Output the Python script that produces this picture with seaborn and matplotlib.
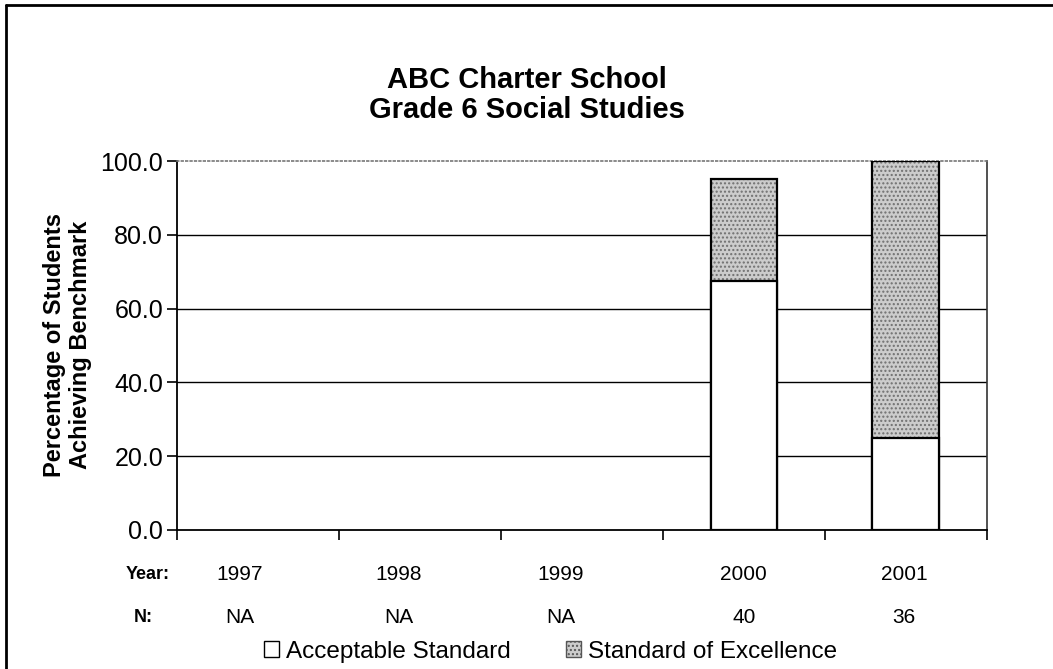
import numpy as np
import pandas as pd
import seaborn as sns
from matplotlib import pyplot as plt
from matplotlib.lines import Line2D
from matplotlib.patches import Patch

# Data
years = ["1997", "1998", "1999", "2000", "2001"]
n_students = ["NA", "NA", "NA", "40", "36"]
acceptable = [np.nan, np.nan, np.nan, 67.5, 25.0]
excellence = [np.nan, np.nan, np.nan, 27.5, 75.0]
label_nudge = [-0.11, -0.13, -0.13, 0.0, -0.01]  # small shifts of the table text
y_ticks = [0, 20, 40, 60, 80, 100]

df = pd.DataFrame({"year": years, "acceptable": acceptable, "excellence": excellence})
df["total"] = df["acceptable"] + df["excellence"]

sns.set_theme(style="white")
plt.rcParams["font.family"] = ["Liberation Sans", "DejaVu Sans"]
plt.rcParams["text.color"] = "black"

fig = plt.figure(figsize=(10.53, 6.69), dpi=100)
ax = fig.add_axes([0.168, 0.2078, 0.769, 0.5515])

for y in y_ticks[1:-1]:
    ax.axhline(y, color="black", lw=1.0, zorder=0)

bar_w = 0.41
# Standard of Excellence on top (drawn as total height, stippled)
sns.barplot(data=df, x="year", y="total", order=years, color="#cccccc",
            hatch="....", edgecolor="#707070", linewidth=0, width=bar_w,
            saturation=1, ax=ax, zorder=2)
sns.barplot(data=df, x="year", y="total", order=years, fill=False,
            edgecolor="black", linewidth=1.6, width=bar_w, ax=ax, zorder=3)
# Acceptable Standard at the bottom (white)
sns.barplot(data=df, x="year", y="acceptable", order=years, color="white",
            edgecolor="black", linewidth=1.6, width=bar_w, saturation=1,
            ax=ax, zorder=4)

ax.set_xlim(-0.5, len(years) - 0.5)
ax.set_ylim(0, 100)
ax.set_yticks(y_ticks)
ax.set_yticklabels([f"{v:.1f}" for v in y_ticks], fontsize=18)
ax.set_xticks(np.arange(len(years) + 1) - 0.5)
ax.set_xticklabels([])
ax.set_xlabel("")
ax.set_ylabel("")
ax.tick_params(axis="y", direction="out", length=7, width=1.2, color="black",
               left=True, pad=3, labelcolor="black")
ax.tick_params(axis="x", direction="out", length=7, width=1.2, color="black",
               bottom=True)

for side in ["left", "bottom"]:
    ax.spines[side].set_color("black")
    ax.spines[side].set_linewidth(1.3)
ax.spines["right"].set_color("#333333")
ax.spines["right"].set_linewidth(1.2)
ax.spines["top"].set_color("#777777")
ax.spines["top"].set_linestyle(":")
ax.spines["top"].set_linewidth(1.2)

# Title
fig.text(0.5, 0.881, "ABC Charter School", ha="center", va="center",
         fontsize=21, fontweight="bold")
fig.text(0.5, 0.836, "Grade 6 Social Studies", ha="center", va="center",
         fontsize=21, fontweight="bold")

# Y label
fig.text(0.064, 0.484, "Percentage of Students\nAchieving Benchmark",
         rotation=90, ha="center", va="center", fontsize=17,
         fontweight="bold", linespacing=1.2)

# Data table under the axis
trans = ax.get_xaxis_transform()
ax.text(-0.68, -0.122, "Year:", transform=trans, ha="center", va="center",
        fontsize=13, fontweight="bold")
ax.text(-0.71, -0.237, "N:", transform=trans, ha="center", va="center",
        fontsize=13, fontweight="bold")
for i, (yr, n) in enumerate(zip(years, n_students)):
    ax.text(i + label_nudge[i], -0.122, yr, transform=trans, ha="center",
            va="center", fontsize=15)
    ax.text(i + label_nudge[i], -0.237, n, transform=trans, ha="center",
            va="center", fontsize=15)

handles = [
    Patch(facecolor="white", edgecolor="black", linewidth=1.0,
          label="Acceptable Standard"),
    Patch(facecolor="#cccccc", edgecolor="#555555", hatch="....",
          linewidth=1.0, label="Standard of Excellence"),
]
fig.legend(handles=handles, loc="center", bbox_to_anchor=(0.523, 0.026),
           ncol=2, frameon=False, fontsize=17.5, handlelength=0.58,
           handleheight=0.58, handletextpad=0.3, columnspacing=2.3)

# Frame around the chart (left and top edges visible in the scan)
fig.add_artist(Line2D([0.006, 0.006], [0.0, 0.993], color="black", lw=2))
fig.add_artist(Line2D([0.006, 1.0], [0.993, 0.993], color="black", lw=2))

fig.savefig("out.png", dpi=100)
